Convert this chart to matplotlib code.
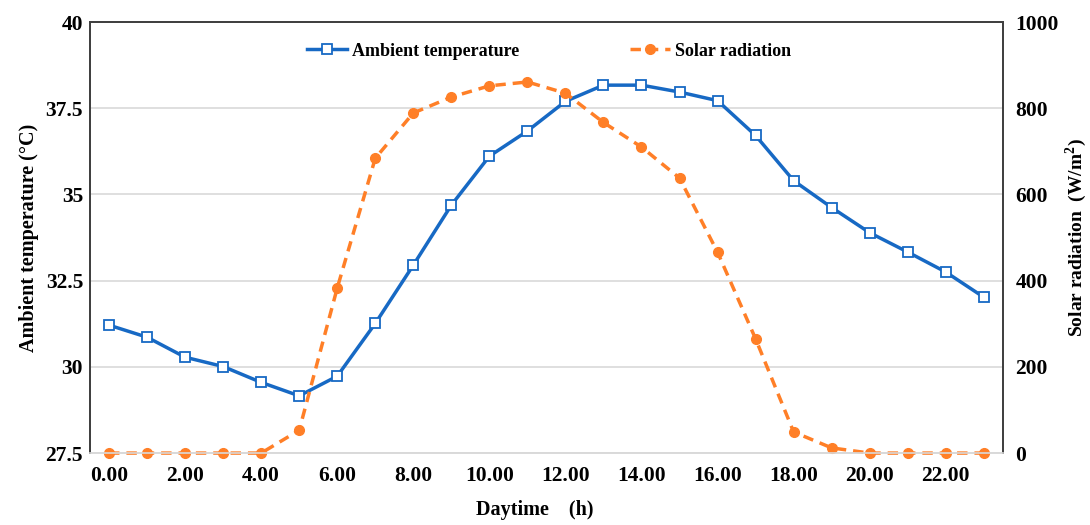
import matplotlib.pyplot as plt

plt.rcParams['font.family'] = ['Liberation Serif', 'DejaVu Serif']
plt.rcParams['font.weight'] = 'bold'
plt.rcParams['axes.labelweight'] = 'bold'
plt.rcParams['mathtext.fontset'] = 'custom'
plt.rcParams['mathtext.bf'] = 'Liberation Serif:bold'

hours = list(range(24))
temp = [31.21, 30.86, 30.28, 30.01, 29.55, 29.16, 29.73, 31.26, 32.95, 34.69,
        36.11, 36.84, 37.70, 38.17, 38.17, 37.97, 37.72, 36.71, 35.40, 34.62,
        33.89, 33.33, 32.75, 32.02]
solar = [0, 0, 0, 0, 0, 53, 383, 684, 789, 826,
         852, 861, 835, 767, 710, 638, 466, 265, 49, 12,
         0, 0, 0, 0]
xtick_vals = list(range(0, 24, 2))
xtick_labels = ['%.2f' % h for h in xtick_vals]
temp_ticks = [27.5, 30, 32.5, 35, 37.5, 40]
temp_labels = ['27.5', '30', '32.5', '35', '37.5', '40']
solar_ticks = [0, 200, 400, 600, 800, 1000]

blue = '#1769C4'
orange = '#FF7F27'

fig = plt.figure(figsize=(10.9, 5.25), dpi=100)
ax1 = fig.add_axes([0.0826, 0.137, 0.8374, 0.821])
ax2 = ax1.twinx()

l1, = ax1.plot(hours, temp, color=blue, lw=2.5, marker='s', ms=6.5,
               mfc='white', mec=blue, mew=1.3, label='Ambient temperature',
               clip_on=False)
l2, = ax2.plot(hours, solar, color=orange, lw=2.5, ls=(0, (3, 2)), marker='o',
               ms=7, mfc=orange, mec=orange, label='Solar radiation',
               clip_on=False)

ax1.set_xlim(-0.5, 23.5)
ax1.set_ylim(27.5, 40)
ax2.set_ylim(0, 1000)
ax1.set_xticks(xtick_vals)
ax1.set_xticklabels(xtick_labels)
ax1.set_yticks(temp_ticks)
ax1.set_yticklabels(temp_labels)
ax2.set_yticks(solar_ticks)

ax1.grid(axis='y', color='#d9d9d9', lw=1.2)
ax1.set_axisbelow(True)

for ax in (ax1, ax2):
    ax.tick_params(length=0, labelsize=15.5)
    for s in ('top', 'left', 'right'):
        ax.spines[s].set_color('#404040')
        ax.spines[s].set_linewidth(1.3)
    ax.spines['bottom'].set_color('#d9d9d9')
    ax.spines['bottom'].set_linewidth(1.2)
ax1.tick_params(axis='x', pad=9)
ax1.tick_params(axis='y', pad=5)
ax2.tick_params(axis='y', pad=9)

ax1.set_ylabel('Ambient temperature (\u00b0C)', fontsize=14.5, labelpad=5)
ax2.set_ylabel('Solar radiation  (W/m$^\\mathbf{2}$)', fontsize=14, labelpad=3)
ax1.set_xlabel('Daytime    (h)', fontsize=14.5)
ax1.xaxis.set_label_coords(0.487, -0.11)

ax2.legend(handles=[l1, l2], loc='upper center', bbox_to_anchor=(0.503, 0.99),
           ncol=2, frameon=False, fontsize=13, columnspacing=6.1,
           handlelength=2.2, handletextpad=0.3)

fig.savefig('out.png', dpi=100)
